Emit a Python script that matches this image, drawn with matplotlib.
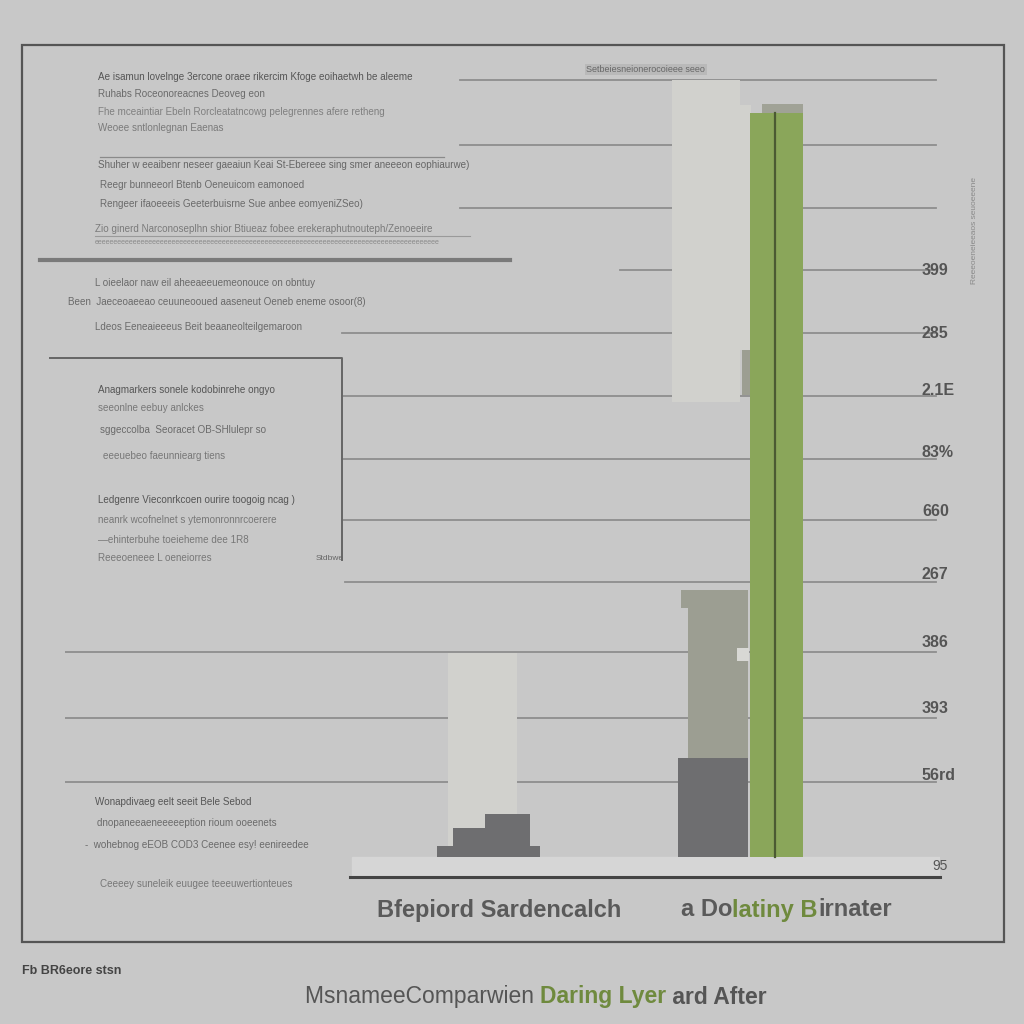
import matplotlib.pyplot as plt
from matplotlib.patches import Rectangle
from matplotlib.lines import Line2D

plt.rcParams['font.family'] = ['Liberation Sans', 'DejaVu Sans']

# ------------------------------------------------------------------
# data (baseline = 0, top of axis = 100)
# ------------------------------------------------------------------
categories = ["Bfepiord Sardencalch", "a Dolatiny Birnater"]

before_light = [25.6, 57.1]        # pale bar (cat1 from 0, cat2 floating)
before_light_top = [25.6, 97.5]
before_mid = [0.0, 33.5]
before_dark = [5.4, 12.4]
step_dark = [1.4, 3.6]            # stepped base of first category
after_green = [0.0, 93.4]

grid_vals = [97.5, 89.3, 81.4, 73.6, 65.7, 57.8, 50.0, 42.3, 34.5, 25.7, 17.4, 9.4]
right_labels = ["399", "285", "2.1E", "83%", "660", "267", "386", "393", "56rd"]
right_label_vals = [73.6, 65.7, 58.5, 50.7, 43.4, 35.4, 26.9, 18.6, 10.2]
bottom_label = "95"

BG = "#c8c8c8"
PALE = "#d1d1cd"
MID = "#9c9e92"
DARK = "#6e6e70"
GREEN = "#8aa65a"
GREEN_TXT = "#6f8a3e"
GRID = "#8e8e8e"

fig = plt.figure(figsize=(10.24, 10.24), dpi=100, facecolor=BG)

# outer frame
fig.add_artist(Rectangle((22 / 1024, 1 - 942 / 1024), 982 / 1024, 897 / 1024,
                         transform=fig.transFigure, fill=False,
                         ec="#555555", lw=1.6))

# axes : 65..940 px wide, 60..877 px tall
ax = fig.add_axes([65 / 1024, 1 - 877 / 1024, 875 / 1024, 817 / 1024])
ax.set_facecolor("none")
ax.set_xlim(-1.479, 1.517)
ax.set_ylim(-2.5, 100)
for s in ["top", "left", "right"]:
    ax.spines[s].set_visible(False)
ax.spines["bottom"].set_color("#444444")
ax.spines["bottom"].set_linewidth(2.2)
ax.spines["bottom"].set_bounds(-0.503, 1.517)
ax.set_xticks([])
ax.set_yticks([])

# grid lines, each starting at a different place
grid_start = [0.451, 0.451, 0.451, 0.634, 0.317, 0.317, 0.317, 0.317, 0.32, 0.0, 0.0, 0.0]
for v, x0 in zip(grid_vals, grid_start):
    ax.axhline(v, xmin=x0, xmax=0.995, color=GRID, lw=1.3, zorder=0)

# light band under the baseline
ax.axhspan(-2.5, 0, xmin=0.328, xmax=1.0, color="#d6d6d6", zorder=0)

# ---- category 1 -------------------------------------------------
c1, c2 = 0, 1
ax.bar(c1 - 0.168, before_light_top[0], width=0.236, align="edge",
       color=PALE, zorder=2)
ax.bar(c1 - 0.205, step_dark[0], width=0.353, align="edge", color=DARK, zorder=3)
ax.bar(c1 - 0.151, step_dark[1], width=0.264, align="edge", color=DARK, zorder=3)
ax.bar(c1 - 0.041, before_dark[0], width=0.154, align="edge", color=DARK, zorder=3)

# ---- category 2 -------------------------------------------------
ax.bar(c2 - 0.401, before_light_top[1] - before_light[1], bottom=before_light[1],
       width=0.233, align="edge", color=PALE, zorder=2)
ax.bar(c2 - 0.199, 94.4 - 63.6, bottom=63.6, width=0.068, align="edge",
       color=PALE, zorder=2)
ax.bar(c2 - 0.160, 63.6 - 58.0, bottom=58.0, width=0.030, align="edge",
       color=MID, zorder=2)
ax.bar(c2 - 0.346, before_mid[1], width=0.205, align="edge", color=MID, zorder=2)
ax.bar(c2 - 0.370, 2.3, bottom=before_mid[1] - 2.3, width=0.23, align="edge",
       color=MID, zorder=2)
ax.bar(c2 - 0.178, 1.6, bottom=24.6, width=0.04, align="edge",
       color="#d8d8d4", zorder=3)
ax.bar(c2 - 0.380, before_dark[1], width=0.240, align="edge", color=DARK, zorder=3)
ax.bar(c2 - 0.134, after_green[1], width=0.182, align="edge", color=GREEN, zorder=4)
ax.bar(c2 - 0.092, 1.1, bottom=after_green[1], width=0.140, align="edge",
       color="#a0a296", zorder=4)
ax.plot([c2 - 0.048, c2 - 0.048], [0, after_green[1]], color="#4b5a33",
        lw=1.6, zorder=5)

# right-hand value labels
for lab, v in zip(right_labels, right_label_vals):
    ax.text(1.455, v, lab, fontsize=11.5, fontweight="bold", color="#555555",
            ha="left", va="center", zorder=6)
ax.text(1.49, -1.1, bottom_label, fontsize=10, color="#555555",
        ha="left", va="center")

# small label above the chart
ax.text(0.51, 98.8, "Setbeiesneionerocoieee seeo", fontsize=6.5,
        color="#666666", ha="center", va="center",
        bbox=dict(boxstyle="square,pad=0.15", fc="#b9b9b9", ec="none"))

# category labels, second one partly green
fig.text(499 / 1024, 1 - 910 / 1024, categories[0], fontsize=17,
         fontweight="bold", color="#5a5a5a", ha="center", va="center")
t1 = fig.text(681 / 1024, 1 - 910 / 1024, "a Do", fontsize=17,
              fontweight="bold", color="#5a5a5a", ha="left", va="center")
t2 = ax.annotate("latiny B", xy=(1, 0), xycoords=t1, va="bottom",
                 fontsize=17, fontweight="bold", color=GREEN_TXT)
ax.annotate("irnater", xy=(1, 0), xycoords=t2, va="bottom",
            fontsize=17, fontweight="bold", color="#5a5a5a")

# ------------------------------------------------------------------
# left-hand notes (garbled text kept as in the picture)
# ------------------------------------------------------------------
notes = [
    (98, 77, "Ae isamun lovelnge 3ercone oraee rikercim Kfoge eoihaetwh be aleeme", "#555555"),
    (98, 94, "Ruhabs Roceonoreacnes Deoveg eon", "#6a6a6a"),
    (98, 112, "Fhe mceaintiar Ebeln Rorcleatatncowg pelegrennes afere retheng", "#808080"),
    (98, 128, "Weoee sntlonlegnan Eaenas", "#7a7a7a"),
    (98, 165, "Shuher w eeaibenr neseer gaeaiun Keai St-Ebereee sing smer aneeeon eophiaurwe)", "#666666"),
    (100, 185, "Reegr bunneeorl Btenb Oeneuicom eamonoed", "#6a6a6a"),
    (100, 204, "Rengeer ifaoeeeis Geeterbuisrne Sue anbee eomyeniZSeo)", "#6a6a6a"),
    (95, 229, "Zio ginerd Narconoseplhn shior Btiueaz fobee erekeraphutnouteph/Zenoeeire", "#7a7a7a"),
    (95, 283, "L oieelaor naw eil aheeaeeuemeonouce on obntuy", "#6a6a6a"),
    (68, 302, "Been  Jaeceoaeeao ceuuneooued aaseneut Oeneb eneme osoor(8)", "#6a6a6a"),
    (95, 327, "Ldeos Eeneaieeeus Beit beaaneolteilgemaroon", "#6a6a6a"),
    (98, 390, "Anagmarkers sonele kodobinrehe ongyo", "#555555"),
    (98, 408, "seeonlne eebuy anlckes", "#777777"),
    (100, 430, "sggeccolba  Seoracet OB-SHlulepr so", "#6a6a6a"),
    (103, 456, "eeeuebeo faeunniearg tiens", "#777777"),
    (98, 500, "Ledgenre Vieconrkcoen ourire toogoig ncag )", "#555555"),
    (98, 520, "neanrk wcofnelnet s ytemonronnrcoerere", "#777777"),
    (98, 540, "\u2014ehinterbuhe toeieheme dee 1R8", "#777777"),
    (98, 558, "Reeeoeneee L oeneiorres", "#777777"),
    (95, 802, "Wonapdivaeg eelt seeit Bele Sebod", "#555555"),
    (97, 823, "dnopaneeaeneeeeeption rioum ooeenets", "#6a6a6a"),
    (85, 845, "-  wohebnog eEOB COD3 Ceenee esy! eenireedee", "#6a6a6a"),
    (100, 884, "Ceeeey suneleik euugee teeeuwertionteues", "#777777"),
]
for x, y, s, c in notes:
    fig.text(x / 1024, 1 - y / 1024, s, fontsize=7.1, color=c,
             ha="left", va="center")

fig.text(95 / 1024, 1 - 243 / 1024,
         "eeeeeeeeeeeeeeeeeeeeeeeeeeeeeeeeeeeeeeeeeeeeeeeeeeeeeeeeeeeeeeeeeeeeeeeeeeeeeeeeeeeeeeeee",
         fontsize=5, color="#8a8a8a", ha="left", va="center")
fig.text(316 / 1024, 1 - 558 / 1024, "Stdbwe", fontsize=6, color="#666666",
         ha="left", va="center")

# thick separator line and the note box
fig.add_artist(Line2D([40 / 1024, 510 / 1024], [1 - 260 / 1024] * 2,
                      transform=fig.transFigure, color="#7a7a7a", lw=3))
fig.add_artist(Line2D([95 / 1024, 470 / 1024], [1 - 236 / 1024, 1 - 236 / 1024],
                      transform=fig.transFigure, color="#9a9a9a", lw=0.8))
fig.add_artist(Line2D([50 / 1024, 342 / 1024, 342 / 1024],
                      [1 - 358 / 1024, 1 - 358 / 1024, 1 - 560 / 1024],
                      transform=fig.transFigure, color="#666666", lw=1.4))
fig.add_artist(Line2D([100 / 1024, 444 / 1024], [1 - 157 / 1024] * 2,
                      transform=fig.transFigure, color="#8a8a8a", lw=0.9))

# vertical text on the right
fig.text(975 / 1024, 1 - 230 / 1024, "Reeeoeneieeaos seuoeeene", fontsize=6,
         color="#8a8a8a", rotation=90, ha="center", va="center")

# footer
fig.text(22 / 1024, 1 - 971 / 1024, "Fb BR6eore stsn", fontsize=9,
         fontweight="bold", color="#444444", ha="left", va="center")
p1 = fig.text(305 / 1024, 1 - 997 / 1024, "MsnameeComparwien ", fontsize=16.5,
              color="#555555", ha="left", va="center")
p2 = ax.annotate("Daring Lyer", xy=(1, 0), xycoords=p1, va="bottom",
                 fontsize=16.5, fontweight="bold", color=GREEN_TXT)
ax.annotate(" ard After", xy=(1, 0), xycoords=p2, va="bottom",
            fontsize=16.5, fontweight="bold", color="#555555")

fig.savefig("out.png", dpi=100, facecolor=BG)
